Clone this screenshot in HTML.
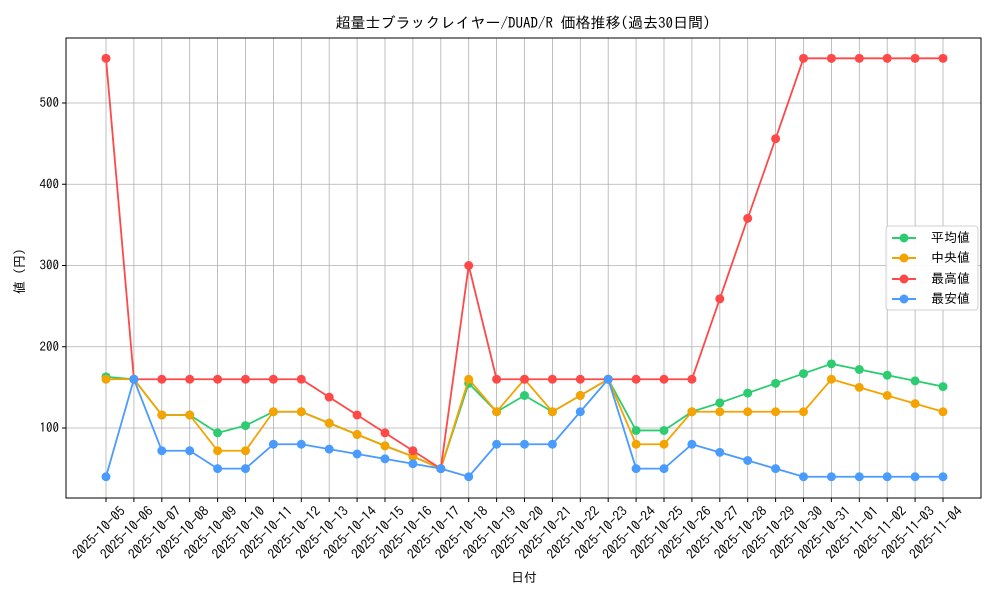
<!DOCTYPE html>
<html><head><meta charset="utf-8"><style>
body{margin:0;background:#fff}
svg text{font-family:"IPAGothic","Noto Sans CJK JP",monospace;fill:#000}
</style></head><body>
<svg id="s" width="1000" height="600" xmlns="http://www.w3.org/2000/svg">
<rect width="1000" height="600" fill="#fff"/>
<text x="523" y="28" font-size="15" text-anchor="middle">超量士ブラックレイヤー/DUAD/R 価格推移(過去30日間)</text>
<g id="grid"></g>
<g id="series"></g>
<rect x="66" y="38" width="915" height="460" fill="none" stroke="#000" stroke-width="1"/>
<g id="ticks"></g>
<text x="524" y="582" font-size="13" text-anchor="middle">日付</text>
<text x="24" y="268" font-size="13" text-anchor="middle" transform="rotate(-90 24 268)">値（円）</text>
<g>
<rect x="886" y="226" width="92" height="84" fill="#fff" stroke="#ccc" rx="3" opacity="0.9"/>
<line x1="892" y1="238" x2="916" y2="238" stroke="#2ecc71" stroke-width="2"/><circle cx="904" cy="238" r="4.5" fill="#2ecc71"/><text x="931" y="242" font-size="13">平均値</text>
<line x1="892" y1="258" x2="916" y2="258" stroke="#f5a300" stroke-width="2"/><circle cx="904" cy="258" r="4.5" fill="#f5a300"/><text x="931" y="262" font-size="13">中央値</text>
<line x1="892" y1="279" x2="916" y2="279" stroke="#ff4848" stroke-width="2"/><circle cx="904" cy="279" r="4.5" fill="#ff4848"/><text x="931" y="283" font-size="13">最高値</text>
<line x1="892" y1="299" x2="916" y2="299" stroke="#4a9bff" stroke-width="2"/><circle cx="904" cy="299" r="4.5" fill="#4a9bff"/><text x="931" y="303" font-size="13">最安値</text>
</g>
</svg>
<script>
const NS="http://www.w3.org/2000/svg";
function el(p,t,a){const e=document.createElementNS(NS,t);for(const k in a)e.setAttribute(k,a[k]);p.appendChild(e);return e;}
const X=i=>106+i*(943-106)/30, Y=v=>428-(v-100)*0.8125;
const g=document.getElementById('grid'),tk=document.getElementById('ticks'),sr=document.getElementById('series');
const dates=[];let d=new Date(Date.UTC(2025,9,5));
for(let i=0;i<31;i++){dates.push(d.toISOString().slice(0,10));d=new Date(d.getTime()+864e5);}
dates.forEach((s,i)=>{const x=X(i);el(g,'line',{x1:x,y1:38,x2:x,y2:498,stroke:'#b0b0b0','stroke-width':0.8});
el(tk,'line',{x1:x,y1:498,x2:x,y2:502,stroke:'#000'});
const ax=x+20,ay=512;
const t=el(tk,'text',{x:ax,y:ay,'font-size':13.5,'text-anchor':'end',transform:`rotate(-45 ${ax} ${ay})`});t.textContent=s;});
[100,200,300,400,500].forEach(v=>{const y=Y(v);el(g,'line',{x1:66,y1:y,x2:981,y2:y,stroke:'#b0b0b0','stroke-width':0.8});
el(tk,'line',{x1:62,y1:y,x2:66,y2:y,stroke:'#000'});const t=el(tk,'text',{x:59,y:y+4,'font-size':13,'text-anchor':'end'});t.textContent=v;});
const S=[
['#2ecc71',[163,160,116,116,94,103,120,120,106,92,78,65,50,155,120,140,120,140,160,97,97,120,131,143,155,167,179,172,165,158,151]],
['#f5a300',[160,160,116,116,72,72,120,120,106,92,78,65,50,160,120,160,120,140,160,80,80,120,120,120,120,120,160,150,140,130,120]],
['#ff4848',[555,160,160,160,160,160,160,160,138,116,94,72,50,300,160,160,160,160,160,160,160,160,259,358,456,555,555,555,555,555,555]],
['#4a9bff',[40,160,72,72,50,50,80,80,74,68,62,56,50,40,80,80,80,120,160,50,50,80,70,60,50,40,40,40,40,40,40]]];
S.forEach(([c,a])=>{el(sr,'polyline',{points:a.map((v,i)=>X(i)+','+Y(v)).join(' '),fill:'none',stroke:c,'stroke-width':1.8});
a.forEach((v,i)=>el(sr,'circle',{cx:X(i),cy:Y(v),r:4.5,fill:c}));});
</script>
</body></html>
